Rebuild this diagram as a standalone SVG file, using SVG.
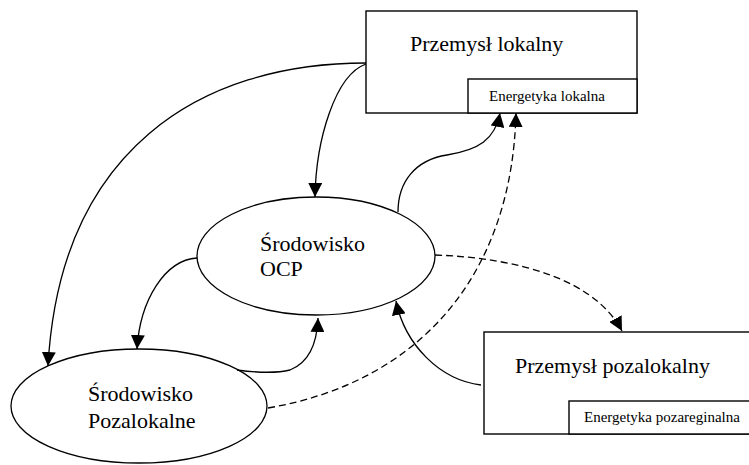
<svg xmlns="http://www.w3.org/2000/svg" width="749" height="465" viewBox="0 0 749 465">
<style>
.box{fill:#fff;stroke:#000;stroke-width:1.4}
.el{fill:#fff;stroke:#000;stroke-width:1.3}
.big{font-family:"Liberation Serif","Times New Roman",serif;font-size:22px;fill:#000}
.small{font-family:"Liberation Serif","Times New Roman",serif;font-size:15px;fill:#000}
.c{fill:none;stroke:#000;stroke-width:1.3;marker-end:url(#arr)}
.d{stroke-dasharray:7 4}
</style>
<defs>
<marker id="arr" markerUnits="userSpaceOnUse" markerWidth="14" markerHeight="14" refX="14" refY="7" orient="auto">
<path d="M0,0 L14,7 L0,14 z" fill="#000"/>
</marker>
</defs>
<rect width="749" height="465" fill="#fff"/>
<g id="przemysl-lokalny">
<rect class="box" x="366" y="11" width="271" height="102"/>
<text class="big" x="410" y="51">Przemysł lokalny</text>
</g>
<g id="energetyka-lokalna">
<rect class="box" x="468" y="79" width="169" height="34"/>
<text class="small" x="489" y="101">Energetyka lokalna</text>
</g>
<g id="przemysl-pozalokalny">
<rect class="box" x="484" y="332" width="270" height="102"/>
<text class="big" x="515" y="373">Przemysł pozalokalny</text>
</g>
<g id="energetyka-pozareginalna">
<rect class="box" x="569" y="401" width="185" height="33"/>
<text class="small" x="584" y="422">Energetyka pozareginalna</text>
</g>
<g id="srodowisko-ocp">
<ellipse class="el" cx="316" cy="256" rx="119" ry="59"/>
<text class="big" x="260" y="251">Środowisko</text>
<text class="big" x="260" y="276">OCP</text>
</g>
<g id="srodowisko-pozalokalne">
<ellipse class="el" cx="139" cy="406" rx="128" ry="57"/>
<text class="big" x="88" y="401">Środowisko</text>
<text class="big" x="88" y="428">Pozalokalne</text>
</g>
<g id="connectors">
<path class="c" d="M366,63 C200,63 60,150 48,366"/>
<path class="c" d="M366,64 C335,75 316,140 315,197"/>
<path class="c" d="M197,258 C165,260 140,300 137,349"/>
<path class="c" d="M237,370 C260,373 278,373 290,370 C308,363 317,345 318,318"/>
<path class="c" d="M398,212 C398,182 415,160 447,155 C478,150 495,140 500,113"/>
<path class="c d" d="M268,408 C420,382 512,275 516,113"/>
<path class="c d" d="M435,255 C520,258 595,280 622,331"/>
<path class="c" d="M481,385 C440,380 405,345 396,301"/>
</g>
</svg>
